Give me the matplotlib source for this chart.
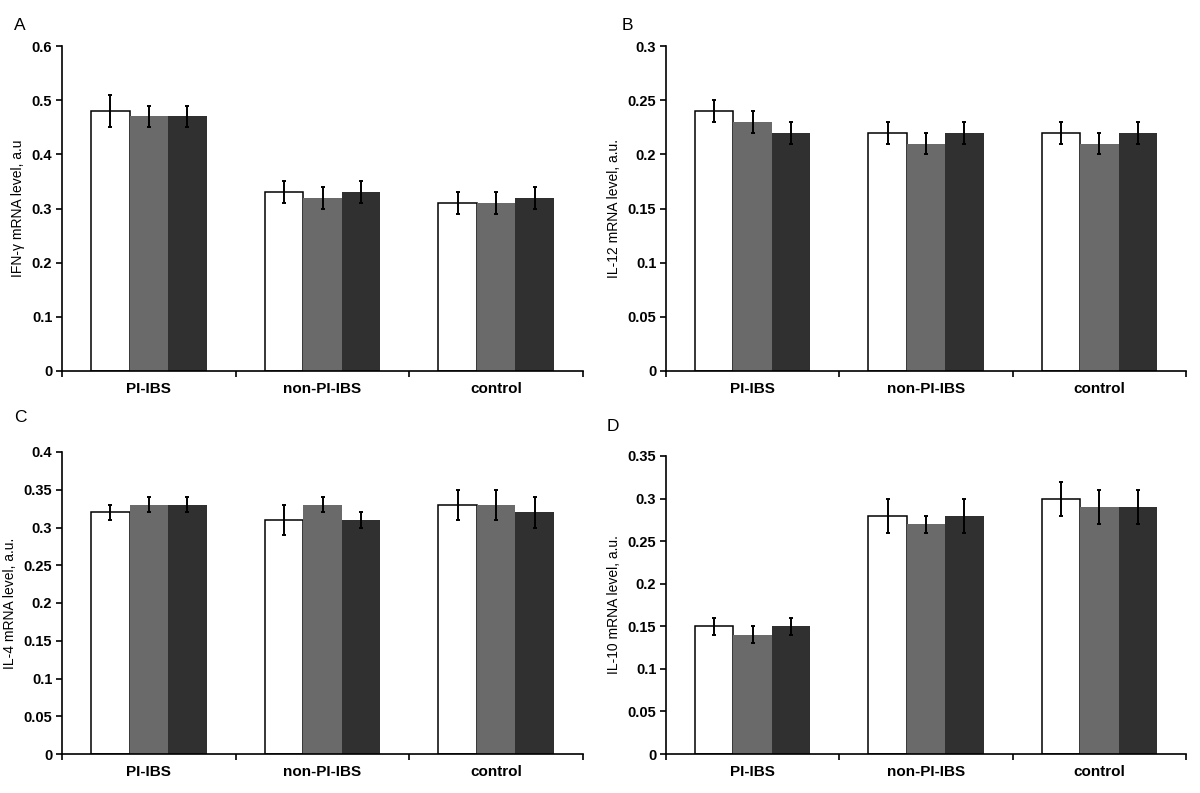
import matplotlib.pyplot as plt
import numpy as np

plt.rcParams['font.family'] = ['Liberation Sans', 'DejaVu Sans']

groups = ["PI-IBS", "non-PI-IBS", "control"]
bar_colors = ["white", "#6a6a6a", "#303030"]

# panel A: IFN-gamma
a_vals = [[0.48, 0.33, 0.31], [0.47, 0.32, 0.31], [0.47, 0.33, 0.32]]
a_errs = [[0.03, 0.02, 0.02], [0.02, 0.02, 0.02], [0.02, 0.02, 0.02]]
# panel B: IL-12
b_vals = [[0.24, 0.22, 0.22], [0.23, 0.21, 0.21], [0.22, 0.22, 0.22]]
b_errs = [[0.01, 0.01, 0.01], [0.01, 0.01, 0.01], [0.01, 0.01, 0.01]]
# panel C: IL-4
c_vals = [[0.32, 0.31, 0.33], [0.33, 0.33, 0.33], [0.33, 0.31, 0.32]]
c_errs = [[0.01, 0.02, 0.02], [0.01, 0.01, 0.02], [0.01, 0.01, 0.02]]
# panel D: IL-10
d_vals = [[0.15, 0.28, 0.30], [0.14, 0.27, 0.29], [0.15, 0.28, 0.29]]
d_errs = [[0.01, 0.02, 0.02], [0.01, 0.01, 0.02], [0.01, 0.02, 0.02]]

W, H = 1200, 793
fig = plt.figure(figsize=(12, 7.93), dpi=100)

panels = [
    ("A", a_vals, a_errs, "IFN-\u03b3 mRNA level, a.u", 0.6, 0.1, "{:.1f}", (62, 583, 46, 371)),
    ("B", b_vals, b_errs, "IL-12 mRNA level, a.u.", 0.3, 0.05, "{:g}", (666, 1186, 46, 371)),
    ("C", c_vals, c_errs, "IL-4 mRNA level, a.u.", 0.4, 0.05, "{:g}", (62, 583, 452, 754)),
    ("D", d_vals, d_errs, "IL-10 mRNA level, a.u.", 0.35, 0.05, "{:g}", (666, 1186, 456, 754)),
]
letter_pos = {"A": (14, 25), "B": (622, 25), "C": (14, 418), "D": (607, 426)}

bw = 0.222
for letter, vals, errs, ylabel, ymax, step, fmt, (l, r, t, b) in panels:
    ax = fig.add_axes([l / W, 1 - b / H, (r - l) / W, (b - t) / H])
    x = np.arange(len(groups)) + 0.5
    for j in range(3):
        ax.bar(x + (j - 1) * bw, vals[j], bw, color=bar_colors[j],
               edgecolor="black" if j == 0 else bar_colors[j],
               linewidth=1.1 if j == 0 else 0, zorder=2)
        ax.errorbar(x + (j - 1) * bw, vals[j], yerr=errs[j], fmt="none",
                    ecolor="black", elinewidth=1.4, capsize=1.4, capthick=1.4, zorder=3)
    ax.set_xlim(0, 3)
    ax.set_ylim(0, ymax)
    yt = np.arange(0, ymax + step / 2, step)
    ax.set_yticks(yt)
    ax.set_yticklabels(["0"] + [fmt.format(v) for v in yt[1:]], fontweight="bold", fontsize=10.5)
    ax.set_xticks([0, 1, 2, 3])
    ax.set_xticklabels([])
    ax.set_xticks(x, minor=True)
    ax.set_xticklabels(groups, minor=True, fontweight="bold", fontsize=11)
    ax.tick_params(axis="x", which="minor", length=0, pad=8)
    ax.tick_params(axis="x", which="major", direction="out", length=4, width=1.2)
    ax.tick_params(axis="y", direction="out", length=4, width=1.2, pad=3)
    for s in ["top", "right"]:
        ax.spines[s].set_visible(False)
    for s in ["left", "bottom"]:
        ax.spines[s].set_linewidth(1.2)
    ax.set_ylabel(ylabel, fontsize=10, labelpad=5)
    lx, ly = letter_pos[letter]
    fig.text(lx / W, 1 - ly / H, letter, fontsize=12.5, ha="left", va="center")

fig.savefig("out.png", dpi=100)
